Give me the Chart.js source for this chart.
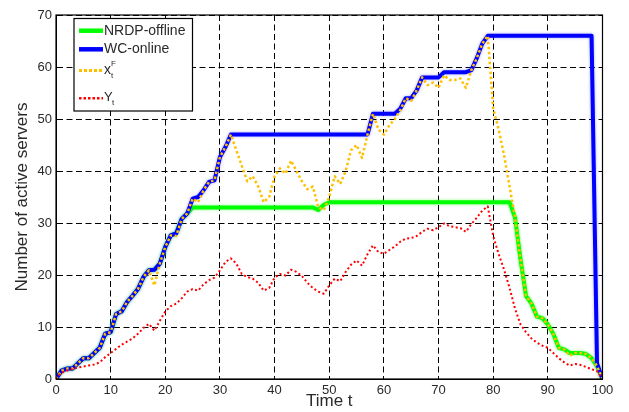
<!DOCTYPE html>
<html>
<head>
<meta charset="utf-8">
<script src="https://cdn.jsdelivr.net/npm/chart.js@4/dist/chart.umd.min.js"></script>
<style>
  html, body { margin: 0; padding: 0; background: #fff; }
  #wrap { width: 629px; height: 412px; }
</style>
</head>
<body>
<div id="wrap"><canvas id="servers"></canvas></div>
<script>
// time steps 0..100
const times = Array.from({ length: 101 }, (_, i) => i);

const xTicks = [0, 10, 20, 30, 40, 50, 60, 70, 80, 90, 100];
const yTicks = [0, 10, 20, 30, 40, 50, 60, 70];

// NRDP-offline
const nrdpOffline = [
  0, 1.6, 2, 2, 3, 4, 4, 5, 6, 8.7,
  9, 12.5, 13, 14.8, 16, 17.3, 19.6, 20.9, 21, 22.2,
  25.4, 27.6, 28, 30.8, 31.8, 33, 33, 33, 33, 33,
  33, 33, 33, 33, 33, 33, 33, 33, 33, 33,
  33, 33, 33, 33, 33, 33, 33, 33, 32.5, 33.5,
  34, 34, 34, 34, 34, 34, 34, 34, 34, 34,
  34, 34, 34, 34, 34, 34, 34, 34, 34, 34,
  34, 34, 34, 34, 34, 34, 34, 34, 34, 34,
  34, 34, 34, 34, 31, 23, 16, 14.5, 12, 11.7,
  10.5, 8.7, 6, 5.7, 5, 5, 5, 4.8, 4, 2.5,
  0
];

// WC-online
const wcOnline = [
  0, 1.6, 2, 2, 3, 4, 4, 5, 6, 8.7,
  9, 12.5, 13, 14.8, 16, 17.3, 19.6, 20.9, 21, 22.2,
  25.4, 27.6, 28, 30.8, 31.8, 34.7, 35, 36.3, 37.9, 38.2,
  42.7, 44.6, 47, 47, 47, 47, 47, 47, 47, 47,
  47, 47, 47, 47, 47, 47, 47, 47, 47, 47,
  47, 47, 47, 47, 47, 47, 47, 47, 51, 51,
  51, 51, 51, 52, 54, 54, 55.5, 58, 58, 58,
  58, 59, 59, 59, 59, 59, 59.4, 61.7, 64.5, 66,
  66, 66, 66, 66, 66, 66, 66, 66, 66, 66,
  66, 66, 66, 66, 66, 66, 66, 66, 66, 3,
  0
];

// x_t^F
const xF = [
  0, 1.6, 2, 2, 3, 4, 4, 5, 6, 8.7,
  9, 12.5, 13, 14.8, 16, 17.3, 19.6, 20.9, 18, 22.2,
  25.4, 27.6, 27.5, 30.8, 31.8, 34.7, 34, 36.3, 37.9, 38.2,
  42.7, 44.6, 47, 44, 41, 38, 39, 37, 34, 35,
  39, 40.5, 39.5, 42, 40, 38, 36.5, 37, 33, 32.5,
  35, 39, 37.5, 40, 44, 45, 42.5, 47, 51, 48,
  47, 48.8, 50, 51.7, 54, 53.5, 55.5, 58, 56.5, 57,
  56, 58.4, 57.5, 57.5, 57.8, 56, 59.4, 61.7, 64.5, 66,
  52, 48, 43, 37, 31, 23, 16, 14.5, 12, 11.7,
  10.5, 8.7, 6, 5.7, 4.5, 5, 5, 4.8, 4, 2.5,
  0
];

// Y_t
const yT = [
  0, 1.2, 1.6, 1.9, 2.2, 2.4, 2.6, 2.8, 3.2, 4.2,
  5, 5.8, 6.6, 7.2, 7.8, 8.7, 9.8, 10.6, 9.3, 11.2,
  13, 14, 14.5, 15.5, 16.8, 17.3, 17, 18.2, 19, 19.5,
  20.9, 22.5, 23.2, 22.2, 20.2, 19.6, 19.3, 18.5, 17, 17.5,
  19.5, 20.2, 19.9, 21, 20.6, 19.8, 18.5, 17.5, 16.8, 16.4,
  18, 19.3, 18.8, 20.6, 22, 22.8, 21.8, 24, 25.7, 24.4,
  24.1, 24.8, 25.5, 26.4, 27, 27.1, 27.5, 28.3, 28.9, 28.6,
  29.2, 29.9, 29.4, 29.2, 29, 28.3, 29.8, 31, 32.4, 33.2,
  27.5, 24, 21, 17.5, 13.5, 10.5, 9, 7.8, 7, 6.4,
  6, 5, 4, 3.2, 2.6, 2.9, 2.7, 2.3, 1.9, 1.5,
  0
];

const FONT = '"Liberation Sans", Arial, sans-serif';
const TEXT = '#2a2a2a';

function pts(values) {
  return values.map((v, i) => ({ x: times[i], y: v }));
}

// soft glow on the thick lines
const glow = {
  id: 'glow',
  beforeDatasetDraw(chart, args) {
    const ds = chart.data.datasets[args.index];
    if (ds.glow) {
      chart.ctx.save();
      chart.ctx.shadowColor = ds.glow;
      chart.ctx.shadowBlur = 3;
    }
  },
  afterDatasetDraw(chart, args) {
    if (chart.data.datasets[args.index].glow) chart.ctx.restore();
  }
};

// solid box round the plot + matlab style legend
const frameAndLegend = {
  id: 'frameAndLegend',
  afterDraw(chart) {
    const ctx = chart.ctx;
    const a = chart.chartArea;
    ctx.save();
    ctx.strokeStyle = '#000';
    ctx.lineWidth = 1.2;
    ctx.setLineDash([]);
    ctx.strokeRect(a.left, a.top, a.right - a.left, a.bottom - a.top);

    // legend box
    const bx = 74, by = 18.5, bw = 118.5, bh = 92.5;
    ctx.fillStyle = '#fff';
    ctx.fillRect(bx, by, bw, bh);
    ctx.lineWidth = 1.2;
    ctx.strokeRect(bx, by, bw, bh);

    const rows = [
      { y: 30.7, color: '#00ff00', width: 4.5, dash: [] },
      { y: 49.3, color: '#0000ff', width: 4.5, dash: [] },
      { y: 70.5, color: '#ffc000', width: 3, dash: [3, 2] },
      { y: 98.3, color: '#ff0000', width: 2.5, dash: [2.5, 2] }
    ];
    rows.forEach(r => {
      ctx.beginPath();
      ctx.strokeStyle = r.color;
      ctx.lineWidth = r.width;
      ctx.setLineDash(r.dash);
      ctx.moveTo(79, r.y);
      ctx.lineTo(103, r.y);
      ctx.stroke();
    });
    ctx.setLineDash([]);
    ctx.fillStyle = TEXT;
    ctx.textBaseline = 'middle';
    ctx.textAlign = 'left';
    ctx.font = '14px ' + FONT;
    ctx.fillText('NRDP-offline', 104, rows[0].y);
    ctx.fillText('WC-online', 104, rows[1].y);
    // x_t^F
    ctx.fillText('x', 104, rows[2].y);
    ctx.font = '8px ' + FONT;
    ctx.fillText('F', 111, rows[2].y - 7);
    ctx.fillText('t', 111, rows[2].y + 5);
    // Y_t
    ctx.font = '13px ' + FONT;
    ctx.fillText('Y', 104, rows[3].y - 1);
    ctx.font = '8px ' + FONT;
    ctx.fillText('t', 112, rows[3].y + 4);
    ctx.restore();
  }
};

new Chart(document.getElementById('servers'), {
  type: 'line',
  data: {
    datasets: [
      {
        label: 'NRDP-offline',
        data: pts(nrdpOffline),
        borderColor: '#00ff00',
        borderWidth: 4,
        glow: 'rgba(0,255,0,0.5)',
        order: 3
      },
      {
        label: 'WC-online',
        data: pts(wcOnline),
        borderColor: '#0000ff',
        borderWidth: 4,
        glow: 'rgba(80,80,255,0.5)',
        order: 2
      },
      {
        label: 'x_t^F',
        data: pts(xF),
        borderColor: '#ffc000',
        borderWidth: 2.5,
        borderDash: [2.5, 2.5],
        order: 1
      },
      {
        label: 'Y_t',
        data: pts(yT),
        borderColor: '#ff0000',
        borderWidth: 2,
        borderDash: [2, 2.5],
        order: 0
      }
    ]
  },
  options: {
    responsive: true,
    maintainAspectRatio: false,
    animation: false,
    events: [],
    elements: {
      point: { radius: 0 },
      line: { tension: 0, fill: false, borderCapStyle: 'butt', borderJoinStyle: 'round' }
    },
    layout: { padding: { top: 15, right: 26.5, left: 0, bottom: 0 } },
    plugins: {
      legend: { display: false },
      tooltip: { enabled: false }
    },
    scales: {
      x: {
        type: 'linear',
        min: 0,
        max: 100,
        afterBuildTicks: s => { s.ticks = xTicks.map(v => ({ value: v })); },
        afterFit: s => { s.height = 33; },
        grid: { color: '#000', lineWidth: 1, drawTicks: false },
        border: { display: true, color: '#000', dash: [6, 3.5] },
        ticks: { color: TEXT, padding: 4, font: { family: FONT, size: 13 } },
        title: {
          display: true,
          text: 'Time t',
          color: TEXT,
          padding: { top: 0, bottom: 0 },
          font: { family: FONT, size: 17 }
        }
      },
      y: {
        type: 'linear',
        min: 0,
        max: 70,
        afterBuildTicks: s => { s.ticks = yTicks.map(v => ({ value: v })); },
        afterFit: s => { s.width = 56; },
        grid: { color: '#000', lineWidth: 1, drawTicks: false },
        border: { display: true, color: '#000', dash: [6, 3.5] },
        ticks: { color: TEXT, padding: 4, font: { family: FONT, size: 13 } },
        title: {
          display: true,
          text: 'Number of active servers',
          color: TEXT,
          padding: { top: 12, bottom: 0 },
          font: { family: FONT, size: 17 }
        }
      }
    }
  },
  plugins: [glow, frameAndLegend]
});
</script>
</body>
</html>
